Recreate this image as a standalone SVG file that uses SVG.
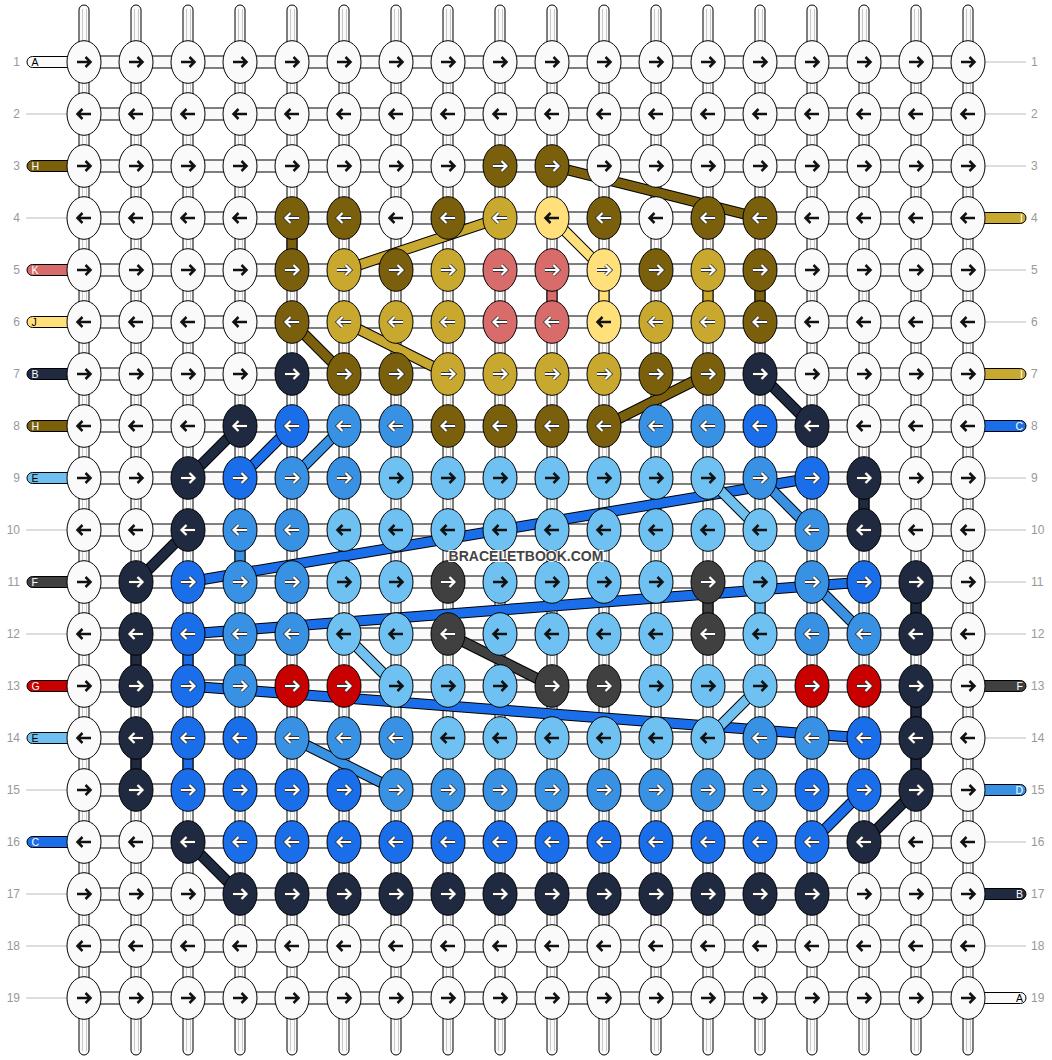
<svg xmlns="http://www.w3.org/2000/svg" xmlns:xlink="http://www.w3.org/1999/xlink" width="1052" height="1060" viewBox="0 0 1052 1060">
<style>
.vt{fill:#fafafa;stroke:#000;stroke-width:1}
.vi{stroke:#c8c8c8;stroke-width:1}
.ht{fill:#fafafa;stroke:#000;stroke-width:1}
.lk{stroke:#000;stroke-width:1}
.W{fill:#fafafa}.H{fill:#7a600c}.I{fill:#c9a830}.J{fill:#ffe07a}.K{fill:#d76c6b}.B{fill:#1f2940}.C{fill:#1b6ee9}.D{fill:#3891e2}.E{fill:#6ec1f0}.F{fill:#404040}.G{fill:#c80000}
ellipse{stroke:#000;stroke-width:1}
.ak{fill:none;stroke:#111;stroke-width:2.5}
.ao{fill:none;stroke:#333;stroke-width:3.8}
.aw{fill:none;stroke:#fff;stroke-width:2.2}
.so{stroke:#000;stroke-width:11}
.sc{stroke-width:9}
.tH{stroke:#7a600c}.tI{stroke:#c9a830}.tJ{stroke:#ffe07a}.tB{stroke:#1f2940}.tC{stroke:#1b6ee9}.tD{stroke:#3891e2}.tE{stroke:#6ec1f0}.tF{stroke:#404040}
.num{font-family:"Liberation Sans",Arial,sans-serif;font-size:12px;fill:#999}
.gl{stroke:#bbb;stroke-width:1}
.cap{stroke:#000;stroke-width:1}
.lt{font-family:"Liberation Sans",Arial,sans-serif;font-size:10.5px}
.wt{fill:#fff}.bt{fill:#000}
.wm{font-family:"Liberation Sans",Arial,sans-serif;font-size:14px;font-weight:bold;fill:#444;stroke:#fff;stroke-width:2;paint-order:stroke;text-anchor:middle}
</style>
<defs>
<path id="pR" d="M-7 0H6M1.5-5L6.5 0L1.5 5"/>
<path id="pL" d="M7 0H-6M-1.5-5L-6.5 0L-1.5 5"/>
<g id="R"><use href="#pR" class="ak"/></g>
<g id="L"><use href="#pL" class="ak"/></g>
<g id="RW"><use href="#pR" class="ao"/><use href="#pR" class="aw"/></g>
<g id="LW"><use href="#pL" class="ao"/><use href="#pL" class="aw"/></g>
</defs>
<rect width="1052" height="1060" fill="#fff"/>
<g id="vertical-strands">
<rect class="vt" x="79" y="5" width="10" height="1050" rx="5"/><line class="vi" x1="82.5" y1="9" x2="82.5" y2="1051"/><line class="vi" x1="86.5" y1="9" x2="86.5" y2="1051"/>
<rect class="vt" x="131" y="5" width="10" height="1050" rx="5"/><line class="vi" x1="134.5" y1="9" x2="134.5" y2="1051"/><line class="vi" x1="138.5" y1="9" x2="138.5" y2="1051"/>
<rect class="vt" x="183" y="5" width="10" height="1050" rx="5"/><line class="vi" x1="186.5" y1="9" x2="186.5" y2="1051"/><line class="vi" x1="190.5" y1="9" x2="190.5" y2="1051"/>
<rect class="vt" x="235" y="5" width="10" height="1050" rx="5"/><line class="vi" x1="238.5" y1="9" x2="238.5" y2="1051"/><line class="vi" x1="242.5" y1="9" x2="242.5" y2="1051"/>
<rect class="vt" x="287" y="5" width="10" height="1050" rx="5"/><line class="vi" x1="290.5" y1="9" x2="290.5" y2="1051"/><line class="vi" x1="294.5" y1="9" x2="294.5" y2="1051"/>
<rect class="vt" x="339" y="5" width="10" height="1050" rx="5"/><line class="vi" x1="342.5" y1="9" x2="342.5" y2="1051"/><line class="vi" x1="346.5" y1="9" x2="346.5" y2="1051"/>
<rect class="vt" x="391" y="5" width="10" height="1050" rx="5"/><line class="vi" x1="394.5" y1="9" x2="394.5" y2="1051"/><line class="vi" x1="398.5" y1="9" x2="398.5" y2="1051"/>
<rect class="vt" x="443" y="5" width="10" height="1050" rx="5"/><line class="vi" x1="446.5" y1="9" x2="446.5" y2="1051"/><line class="vi" x1="450.5" y1="9" x2="450.5" y2="1051"/>
<rect class="vt" x="495" y="5" width="10" height="1050" rx="5"/><line class="vi" x1="498.5" y1="9" x2="498.5" y2="1051"/><line class="vi" x1="502.5" y1="9" x2="502.5" y2="1051"/>
<rect class="vt" x="547" y="5" width="10" height="1050" rx="5"/><line class="vi" x1="550.5" y1="9" x2="550.5" y2="1051"/><line class="vi" x1="554.5" y1="9" x2="554.5" y2="1051"/>
<rect class="vt" x="599" y="5" width="10" height="1050" rx="5"/><line class="vi" x1="602.5" y1="9" x2="602.5" y2="1051"/><line class="vi" x1="606.5" y1="9" x2="606.5" y2="1051"/>
<rect class="vt" x="651" y="5" width="10" height="1050" rx="5"/><line class="vi" x1="654.5" y1="9" x2="654.5" y2="1051"/><line class="vi" x1="658.5" y1="9" x2="658.5" y2="1051"/>
<rect class="vt" x="703" y="5" width="10" height="1050" rx="5"/><line class="vi" x1="706.5" y1="9" x2="706.5" y2="1051"/><line class="vi" x1="710.5" y1="9" x2="710.5" y2="1051"/>
<rect class="vt" x="755" y="5" width="10" height="1050" rx="5"/><line class="vi" x1="758.5" y1="9" x2="758.5" y2="1051"/><line class="vi" x1="762.5" y1="9" x2="762.5" y2="1051"/>
<rect class="vt" x="807" y="5" width="10" height="1050" rx="5"/><line class="vi" x1="810.5" y1="9" x2="810.5" y2="1051"/><line class="vi" x1="814.5" y1="9" x2="814.5" y2="1051"/>
<rect class="vt" x="859" y="5" width="10" height="1050" rx="5"/><line class="vi" x1="862.5" y1="9" x2="862.5" y2="1051"/><line class="vi" x1="866.5" y1="9" x2="866.5" y2="1051"/>
<rect class="vt" x="911" y="5" width="10" height="1050" rx="5"/><line class="vi" x1="914.5" y1="9" x2="914.5" y2="1051"/><line class="vi" x1="918.5" y1="9" x2="918.5" y2="1051"/>
<rect class="vt" x="963" y="5" width="10" height="1050" rx="5"/><line class="vi" x1="966.5" y1="9" x2="966.5" y2="1051"/><line class="vi" x1="970.5" y1="9" x2="970.5" y2="1051"/>
</g>
<g id="horizontal-strands">
<rect class="ht" x="84" y="56" width="884" height="12"/>
<rect class="ht" x="84" y="108" width="884" height="12"/>
<rect class="ht" x="84" y="160" width="884" height="12"/>
<rect class="ht" x="84" y="212" width="884" height="12"/>
<rect class="ht" x="84" y="264" width="884" height="12"/>
<rect class="ht" x="84" y="316" width="884" height="12"/>
<rect class="ht" x="84" y="368" width="884" height="12"/>
<rect class="ht" x="84" y="420" width="884" height="12"/>
<rect class="ht" x="84" y="472" width="884" height="12"/>
<rect class="ht" x="84" y="524" width="884" height="12"/>
<rect class="ht" x="84" y="576" width="884" height="12"/>
<rect class="ht" x="84" y="628" width="884" height="12"/>
<rect class="ht" x="84" y="680" width="884" height="12"/>
<rect class="ht" x="84" y="732" width="884" height="12"/>
<rect class="ht" x="84" y="784" width="884" height="12"/>
<rect class="ht" x="84" y="836" width="884" height="12"/>
<rect class="ht" x="84" y="888" width="884" height="12"/>
<rect class="ht" x="84" y="940" width="884" height="12"/>
<rect class="ht" x="84" y="992" width="884" height="12"/>
</g>
<g id="labels">
<g class="num">
<text x="20" y="66" text-anchor="end">1</text><text x="20" y="118" text-anchor="end">2</text><text x="20" y="170" text-anchor="end">3</text><text x="20" y="222" text-anchor="end">4</text><text x="20" y="274" text-anchor="end">5</text><text x="20" y="326" text-anchor="end">6</text><text x="20" y="378" text-anchor="end">7</text><text x="20" y="430" text-anchor="end">8</text><text x="20" y="482" text-anchor="end">9</text><text x="20" y="534" text-anchor="end">10</text><text x="20" y="586" text-anchor="end">11</text><text x="20" y="638" text-anchor="end">12</text><text x="20" y="690" text-anchor="end">13</text><text x="20" y="742" text-anchor="end">14</text><text x="20" y="794" text-anchor="end">15</text><text x="20" y="846" text-anchor="end">16</text><text x="20" y="898" text-anchor="end">17</text><text x="20" y="950" text-anchor="end">18</text><text x="20" y="1002" text-anchor="end">19</text>
<text x="1031" y="66">1</text><text x="1031" y="118">2</text><text x="1031" y="170">3</text><text x="1031" y="222">4</text><text x="1031" y="274">5</text><text x="1031" y="326">6</text><text x="1031" y="378">7</text><text x="1031" y="430">8</text><text x="1031" y="482">9</text><text x="1031" y="534">10</text><text x="1031" y="586">11</text><text x="1031" y="638">12</text><text x="1031" y="690">13</text><text x="1031" y="742">14</text><text x="1031" y="794">15</text><text x="1031" y="846">16</text><text x="1031" y="898">17</text><text x="1031" y="950">18</text><text x="1031" y="1002">19</text>
</g>
<g class="gl">
<line x1="26" y1="114" x2="67" y2="114"/><line x1="26" y1="218" x2="67" y2="218"/><line x1="26" y1="530" x2="67" y2="530"/><line x1="26" y1="634" x2="67" y2="634"/><line x1="26" y1="790" x2="67" y2="790"/><line x1="26" y1="894" x2="67" y2="894"/><line x1="26" y1="946" x2="67" y2="946"/><line x1="26" y1="998" x2="67" y2="998"/>
<line x1="985" y1="62" x2="1026" y2="62"/><line x1="985" y1="114" x2="1026" y2="114"/><line x1="985" y1="166" x2="1026" y2="166"/><line x1="985" y1="270" x2="1026" y2="270"/><line x1="985" y1="322" x2="1026" y2="322"/><line x1="985" y1="478" x2="1026" y2="478"/><line x1="985" y1="530" x2="1026" y2="530"/><line x1="985" y1="582" x2="1026" y2="582"/><line x1="985" y1="634" x2="1026" y2="634"/><line x1="985" y1="738" x2="1026" y2="738"/><line x1="985" y1="842" x2="1026" y2="842"/><line x1="985" y1="946" x2="1026" y2="946"/>
</g>
<g id="start-A"><rect class="cap W" x="27" y="56.5" width="50" height="11" rx="5.5"/><text class="lt bt" x="31.5" y="66">A</text></g>
<g id="start-H1"><rect class="cap H" x="27" y="160.5" width="50" height="11" rx="5.5"/><text class="lt wt" x="31.5" y="170">H</text></g>
<g id="start-K"><rect class="cap K" x="27" y="264.5" width="50" height="11" rx="5.5"/><text class="lt wt" x="31.5" y="274">K</text></g>
<g id="start-J"><rect class="cap J" x="27" y="316.5" width="50" height="11" rx="5.5"/><text class="lt bt" x="31.5" y="326">J</text></g>
<g id="start-B"><rect class="cap B" x="27" y="368.5" width="50" height="11" rx="5.5"/><text class="lt wt" x="31.5" y="378">B</text></g>
<g id="start-H2"><rect class="cap H" x="27" y="420.5" width="50" height="11" rx="5.5"/><text class="lt wt" x="31.5" y="430">H</text></g>
<g id="start-E1"><rect class="cap E" x="27" y="472.5" width="50" height="11" rx="5.5"/><text class="lt bt" x="31.5" y="482">E</text></g>
<g id="start-F"><rect class="cap F" x="27" y="576.5" width="50" height="11" rx="5.5"/><text class="lt wt" x="31.5" y="586">F</text></g>
<g id="start-G"><rect class="cap G" x="27" y="680.5" width="50" height="11" rx="5.5"/><text class="lt wt" x="31.5" y="690">G</text></g>
<g id="start-E2"><rect class="cap E" x="27" y="732.5" width="50" height="11" rx="5.5"/><text class="lt bt" x="31.5" y="742">E</text></g>
<g id="start-C"><rect class="cap C" x="27" y="836.5" width="50" height="11" rx="5.5"/><text class="lt wt" x="31.5" y="846">C</text></g>
<g id="end-I1"><rect class="cap I" x="962" y="212.5" width="64" height="11" rx="5.5"/><text class="lt wt" x="1023" y="222" text-anchor="end">I</text></g>
<g id="end-I2"><rect class="cap I" x="962" y="368.5" width="64" height="11" rx="5.5"/><text class="lt wt" x="1023" y="378" text-anchor="end">I</text></g>
<g id="end-C"><rect class="cap C" x="962" y="420.5" width="64" height="11" rx="5.5"/><text class="lt wt" x="1023" y="430" text-anchor="end">C</text></g>
<g id="end-F"><rect class="cap F" x="962" y="680.5" width="64" height="11" rx="5.5"/><text class="lt wt" x="1023" y="690" text-anchor="end">F</text></g>
<g id="end-D"><rect class="cap D" x="962" y="784.5" width="64" height="11" rx="5.5"/><text class="lt wt" x="1023" y="794" text-anchor="end">D</text></g>
<g id="end-B"><rect class="cap B" x="962" y="888.5" width="64" height="11" rx="5.5"/><text class="lt wt" x="1023" y="898" text-anchor="end">B</text></g>
<g id="end-A"><rect class="cap W" x="962" y="992.5" width="64" height="11" rx="5.5"/><text class="lt bt" x="1023" y="1002" text-anchor="end">A</text></g>
</g>
<g id="connectors">
<g id="links">
<rect class="lk H" x="287" y="218" width="10" height="52"/>
<rect class="lk K" x="547" y="270" width="10" height="52"/>
<rect class="lk J" x="599" y="270" width="10" height="52"/>
<rect class="lk I" x="703" y="270" width="10" height="52"/>
<rect class="lk H" x="755" y="270" width="10" height="52"/>
<rect class="lk B" x="859" y="478" width="10" height="52"/>
<rect class="lk D" x="235" y="530" width="10" height="52"/>
<rect class="lk F" x="703" y="582" width="10" height="52"/>
<rect class="lk E" x="755" y="582" width="10" height="52"/>
<rect class="lk B" x="911" y="582" width="10" height="52"/>
<rect class="lk B" x="131" y="634" width="10" height="52"/>
<rect class="lk C" x="183" y="634" width="10" height="52"/>
<rect class="lk D" x="235" y="634" width="10" height="52"/>
<rect class="lk B" x="911" y="686" width="10" height="52"/>
<rect class="lk B" x="131" y="738" width="10" height="52"/>
<rect class="lk C" x="183" y="738" width="10" height="52"/>
<rect class="lk B" x="911" y="738" width="10" height="52"/>
</g>
<g id="diagonals">
<line class="so" x1="552" y1="166" x2="760" y2="218"/><line class="sc tH" x1="552" y1="166" x2="760" y2="218"/>
<line class="so" x1="344" y1="270" x2="500" y2="218"/><line class="sc tI" x1="344" y1="270" x2="500" y2="218"/>
<line class="so" x1="552" y1="218" x2="604" y2="270"/><line class="sc tJ" x1="552" y1="218" x2="604" y2="270"/>
<line class="so" x1="292" y1="322" x2="344" y2="374"/><line class="sc tH" x1="292" y1="322" x2="344" y2="374"/>
<line class="so" x1="344" y1="322" x2="448" y2="374"/><line class="sc tI" x1="344" y1="322" x2="448" y2="374"/>
<line class="so" x1="760" y1="374" x2="812" y2="426"/><line class="sc tB" x1="760" y1="374" x2="812" y2="426"/>
<line class="so" x1="604" y1="426" x2="708" y2="374"/><line class="sc tH" x1="604" y1="426" x2="708" y2="374"/>
<line class="so" x1="240" y1="426" x2="188" y2="478"/><line class="sc tB" x1="240" y1="426" x2="188" y2="478"/>
<line class="so" x1="292" y1="426" x2="240" y2="478"/><line class="sc tC" x1="292" y1="426" x2="240" y2="478"/>
<line class="so" x1="344" y1="426" x2="292" y2="478"/><line class="sc tD" x1="344" y1="426" x2="292" y2="478"/>
<line class="so" x1="188" y1="530" x2="136" y2="582"/><line class="sc tB" x1="188" y1="530" x2="136" y2="582"/>
<line class="so" x1="188" y1="582" x2="812" y2="478"/><line class="sc tC" x1="188" y1="582" x2="812" y2="478"/>
<line class="so" x1="708" y1="478" x2="760" y2="530"/><line class="sc tE" x1="708" y1="478" x2="760" y2="530"/>
<line class="so" x1="760" y1="478" x2="812" y2="530"/><line class="sc tD" x1="760" y1="478" x2="812" y2="530"/>
<line class="so" x1="188" y1="634" x2="864" y2="582"/><line class="sc tC" x1="188" y1="634" x2="864" y2="582"/>
<line class="so" x1="448" y1="634" x2="552" y2="686"/><line class="sc tF" x1="448" y1="634" x2="552" y2="686"/>
<line class="so" x1="344" y1="634" x2="396" y2="686"/><line class="sc tE" x1="344" y1="634" x2="396" y2="686"/>
<line class="so" x1="812" y1="582" x2="864" y2="634"/><line class="sc tD" x1="812" y1="582" x2="864" y2="634"/>
<line class="so" x1="188" y1="686" x2="864" y2="738"/><line class="sc tC" x1="188" y1="686" x2="864" y2="738"/>
<line class="so" x1="760" y1="686" x2="708" y2="738"/><line class="sc tE" x1="760" y1="686" x2="708" y2="738"/>
<line class="so" x1="292" y1="738" x2="396" y2="790"/><line class="sc tD" x1="292" y1="738" x2="396" y2="790"/>
<line class="so" x1="188" y1="842" x2="240" y2="894"/><line class="sc tB" x1="188" y1="842" x2="240" y2="894"/>
<line class="so" x1="916" y1="790" x2="864" y2="842"/><line class="sc tB" x1="916" y1="790" x2="864" y2="842"/>
<line class="so" x1="864" y1="790" x2="812" y2="842"/><line class="sc tC" x1="864" y1="790" x2="812" y2="842"/>
</g>
</g>
<g id="knots">
<g id="k1-1" class="W"><ellipse cx="84" cy="62" rx="17" ry="21.3"/><use href="#R" x="84" y="62"/></g>
<g id="k1-2" class="W"><ellipse cx="136" cy="62" rx="17" ry="21.3"/><use href="#R" x="136" y="62"/></g>
<g id="k1-3" class="W"><ellipse cx="188" cy="62" rx="17" ry="21.3"/><use href="#R" x="188" y="62"/></g>
<g id="k1-4" class="W"><ellipse cx="240" cy="62" rx="17" ry="21.3"/><use href="#R" x="240" y="62"/></g>
<g id="k1-5" class="W"><ellipse cx="292" cy="62" rx="17" ry="21.3"/><use href="#R" x="292" y="62"/></g>
<g id="k1-6" class="W"><ellipse cx="344" cy="62" rx="17" ry="21.3"/><use href="#R" x="344" y="62"/></g>
<g id="k1-7" class="W"><ellipse cx="396" cy="62" rx="17" ry="21.3"/><use href="#R" x="396" y="62"/></g>
<g id="k1-8" class="W"><ellipse cx="448" cy="62" rx="17" ry="21.3"/><use href="#R" x="448" y="62"/></g>
<g id="k1-9" class="W"><ellipse cx="500" cy="62" rx="17" ry="21.3"/><use href="#R" x="500" y="62"/></g>
<g id="k1-10" class="W"><ellipse cx="552" cy="62" rx="17" ry="21.3"/><use href="#R" x="552" y="62"/></g>
<g id="k1-11" class="W"><ellipse cx="604" cy="62" rx="17" ry="21.3"/><use href="#R" x="604" y="62"/></g>
<g id="k1-12" class="W"><ellipse cx="656" cy="62" rx="17" ry="21.3"/><use href="#R" x="656" y="62"/></g>
<g id="k1-13" class="W"><ellipse cx="708" cy="62" rx="17" ry="21.3"/><use href="#R" x="708" y="62"/></g>
<g id="k1-14" class="W"><ellipse cx="760" cy="62" rx="17" ry="21.3"/><use href="#R" x="760" y="62"/></g>
<g id="k1-15" class="W"><ellipse cx="812" cy="62" rx="17" ry="21.3"/><use href="#R" x="812" y="62"/></g>
<g id="k1-16" class="W"><ellipse cx="864" cy="62" rx="17" ry="21.3"/><use href="#R" x="864" y="62"/></g>
<g id="k1-17" class="W"><ellipse cx="916" cy="62" rx="17" ry="21.3"/><use href="#R" x="916" y="62"/></g>
<g id="k1-18" class="W"><ellipse cx="968" cy="62" rx="17" ry="21.3"/><use href="#R" x="968" y="62"/></g>
<g id="k2-1" class="W"><ellipse cx="84" cy="114" rx="17" ry="21.3"/><use href="#L" x="84" y="114"/></g>
<g id="k2-2" class="W"><ellipse cx="136" cy="114" rx="17" ry="21.3"/><use href="#L" x="136" y="114"/></g>
<g id="k2-3" class="W"><ellipse cx="188" cy="114" rx="17" ry="21.3"/><use href="#L" x="188" y="114"/></g>
<g id="k2-4" class="W"><ellipse cx="240" cy="114" rx="17" ry="21.3"/><use href="#L" x="240" y="114"/></g>
<g id="k2-5" class="W"><ellipse cx="292" cy="114" rx="17" ry="21.3"/><use href="#L" x="292" y="114"/></g>
<g id="k2-6" class="W"><ellipse cx="344" cy="114" rx="17" ry="21.3"/><use href="#L" x="344" y="114"/></g>
<g id="k2-7" class="W"><ellipse cx="396" cy="114" rx="17" ry="21.3"/><use href="#L" x="396" y="114"/></g>
<g id="k2-8" class="W"><ellipse cx="448" cy="114" rx="17" ry="21.3"/><use href="#L" x="448" y="114"/></g>
<g id="k2-9" class="W"><ellipse cx="500" cy="114" rx="17" ry="21.3"/><use href="#L" x="500" y="114"/></g>
<g id="k2-10" class="W"><ellipse cx="552" cy="114" rx="17" ry="21.3"/><use href="#L" x="552" y="114"/></g>
<g id="k2-11" class="W"><ellipse cx="604" cy="114" rx="17" ry="21.3"/><use href="#L" x="604" y="114"/></g>
<g id="k2-12" class="W"><ellipse cx="656" cy="114" rx="17" ry="21.3"/><use href="#L" x="656" y="114"/></g>
<g id="k2-13" class="W"><ellipse cx="708" cy="114" rx="17" ry="21.3"/><use href="#L" x="708" y="114"/></g>
<g id="k2-14" class="W"><ellipse cx="760" cy="114" rx="17" ry="21.3"/><use href="#L" x="760" y="114"/></g>
<g id="k2-15" class="W"><ellipse cx="812" cy="114" rx="17" ry="21.3"/><use href="#L" x="812" y="114"/></g>
<g id="k2-16" class="W"><ellipse cx="864" cy="114" rx="17" ry="21.3"/><use href="#L" x="864" y="114"/></g>
<g id="k2-17" class="W"><ellipse cx="916" cy="114" rx="17" ry="21.3"/><use href="#L" x="916" y="114"/></g>
<g id="k2-18" class="W"><ellipse cx="968" cy="114" rx="17" ry="21.3"/><use href="#L" x="968" y="114"/></g>
<g id="k3-1" class="W"><ellipse cx="84" cy="166" rx="17" ry="21.3"/><use href="#R" x="84" y="166"/></g>
<g id="k3-2" class="W"><ellipse cx="136" cy="166" rx="17" ry="21.3"/><use href="#R" x="136" y="166"/></g>
<g id="k3-3" class="W"><ellipse cx="188" cy="166" rx="17" ry="21.3"/><use href="#R" x="188" y="166"/></g>
<g id="k3-4" class="W"><ellipse cx="240" cy="166" rx="17" ry="21.3"/><use href="#R" x="240" y="166"/></g>
<g id="k3-5" class="W"><ellipse cx="292" cy="166" rx="17" ry="21.3"/><use href="#R" x="292" y="166"/></g>
<g id="k3-6" class="W"><ellipse cx="344" cy="166" rx="17" ry="21.3"/><use href="#R" x="344" y="166"/></g>
<g id="k3-7" class="W"><ellipse cx="396" cy="166" rx="17" ry="21.3"/><use href="#R" x="396" y="166"/></g>
<g id="k3-8" class="W"><ellipse cx="448" cy="166" rx="17" ry="21.3"/><use href="#R" x="448" y="166"/></g>
<g id="k3-9" class="H"><ellipse cx="500" cy="166" rx="17" ry="21.3"/><use href="#RW" x="500" y="166"/></g>
<g id="k3-10" class="H"><ellipse cx="552" cy="166" rx="17" ry="21.3"/><use href="#RW" x="552" y="166"/></g>
<g id="k3-11" class="W"><ellipse cx="604" cy="166" rx="17" ry="21.3"/><use href="#R" x="604" y="166"/></g>
<g id="k3-12" class="W"><ellipse cx="656" cy="166" rx="17" ry="21.3"/><use href="#R" x="656" y="166"/></g>
<g id="k3-13" class="W"><ellipse cx="708" cy="166" rx="17" ry="21.3"/><use href="#R" x="708" y="166"/></g>
<g id="k3-14" class="W"><ellipse cx="760" cy="166" rx="17" ry="21.3"/><use href="#R" x="760" y="166"/></g>
<g id="k3-15" class="W"><ellipse cx="812" cy="166" rx="17" ry="21.3"/><use href="#R" x="812" y="166"/></g>
<g id="k3-16" class="W"><ellipse cx="864" cy="166" rx="17" ry="21.3"/><use href="#R" x="864" y="166"/></g>
<g id="k3-17" class="W"><ellipse cx="916" cy="166" rx="17" ry="21.3"/><use href="#R" x="916" y="166"/></g>
<g id="k3-18" class="W"><ellipse cx="968" cy="166" rx="17" ry="21.3"/><use href="#R" x="968" y="166"/></g>
<g id="k4-1" class="W"><ellipse cx="84" cy="218" rx="17" ry="21.3"/><use href="#L" x="84" y="218"/></g>
<g id="k4-2" class="W"><ellipse cx="136" cy="218" rx="17" ry="21.3"/><use href="#L" x="136" y="218"/></g>
<g id="k4-3" class="W"><ellipse cx="188" cy="218" rx="17" ry="21.3"/><use href="#L" x="188" y="218"/></g>
<g id="k4-4" class="W"><ellipse cx="240" cy="218" rx="17" ry="21.3"/><use href="#L" x="240" y="218"/></g>
<g id="k4-5" class="H"><ellipse cx="292" cy="218" rx="17" ry="21.3"/><use href="#LW" x="292" y="218"/></g>
<g id="k4-6" class="H"><ellipse cx="344" cy="218" rx="17" ry="21.3"/><use href="#LW" x="344" y="218"/></g>
<g id="k4-7" class="W"><ellipse cx="396" cy="218" rx="17" ry="21.3"/><use href="#L" x="396" y="218"/></g>
<g id="k4-8" class="H"><ellipse cx="448" cy="218" rx="17" ry="21.3"/><use href="#LW" x="448" y="218"/></g>
<g id="k4-9" class="I"><ellipse cx="500" cy="218" rx="17" ry="21.3"/><use href="#LW" x="500" y="218"/></g>
<g id="k4-10" class="J"><ellipse cx="552" cy="218" rx="17" ry="21.3"/><use href="#L" x="552" y="218"/></g>
<g id="k4-11" class="H"><ellipse cx="604" cy="218" rx="17" ry="21.3"/><use href="#LW" x="604" y="218"/></g>
<g id="k4-12" class="W"><ellipse cx="656" cy="218" rx="17" ry="21.3"/><use href="#L" x="656" y="218"/></g>
<g id="k4-13" class="H"><ellipse cx="708" cy="218" rx="17" ry="21.3"/><use href="#LW" x="708" y="218"/></g>
<g id="k4-14" class="H"><ellipse cx="760" cy="218" rx="17" ry="21.3"/><use href="#LW" x="760" y="218"/></g>
<g id="k4-15" class="W"><ellipse cx="812" cy="218" rx="17" ry="21.3"/><use href="#L" x="812" y="218"/></g>
<g id="k4-16" class="W"><ellipse cx="864" cy="218" rx="17" ry="21.3"/><use href="#L" x="864" y="218"/></g>
<g id="k4-17" class="W"><ellipse cx="916" cy="218" rx="17" ry="21.3"/><use href="#L" x="916" y="218"/></g>
<g id="k4-18" class="W"><ellipse cx="968" cy="218" rx="17" ry="21.3"/><use href="#L" x="968" y="218"/></g>
<g id="k5-1" class="W"><ellipse cx="84" cy="270" rx="17" ry="21.3"/><use href="#R" x="84" y="270"/></g>
<g id="k5-2" class="W"><ellipse cx="136" cy="270" rx="17" ry="21.3"/><use href="#R" x="136" y="270"/></g>
<g id="k5-3" class="W"><ellipse cx="188" cy="270" rx="17" ry="21.3"/><use href="#R" x="188" y="270"/></g>
<g id="k5-4" class="W"><ellipse cx="240" cy="270" rx="17" ry="21.3"/><use href="#R" x="240" y="270"/></g>
<g id="k5-5" class="H"><ellipse cx="292" cy="270" rx="17" ry="21.3"/><use href="#RW" x="292" y="270"/></g>
<g id="k5-6" class="I"><ellipse cx="344" cy="270" rx="17" ry="21.3"/><use href="#RW" x="344" y="270"/></g>
<g id="k5-7" class="H"><ellipse cx="396" cy="270" rx="17" ry="21.3"/><use href="#RW" x="396" y="270"/></g>
<g id="k5-8" class="I"><ellipse cx="448" cy="270" rx="17" ry="21.3"/><use href="#RW" x="448" y="270"/></g>
<g id="k5-9" class="K"><ellipse cx="500" cy="270" rx="17" ry="21.3"/><use href="#RW" x="500" y="270"/></g>
<g id="k5-10" class="K"><ellipse cx="552" cy="270" rx="17" ry="21.3"/><use href="#RW" x="552" y="270"/></g>
<g id="k5-11" class="J"><ellipse cx="604" cy="270" rx="17" ry="21.3"/><use href="#RW" x="604" y="270"/></g>
<g id="k5-12" class="H"><ellipse cx="656" cy="270" rx="17" ry="21.3"/><use href="#RW" x="656" y="270"/></g>
<g id="k5-13" class="I"><ellipse cx="708" cy="270" rx="17" ry="21.3"/><use href="#RW" x="708" y="270"/></g>
<g id="k5-14" class="H"><ellipse cx="760" cy="270" rx="17" ry="21.3"/><use href="#RW" x="760" y="270"/></g>
<g id="k5-15" class="W"><ellipse cx="812" cy="270" rx="17" ry="21.3"/><use href="#R" x="812" y="270"/></g>
<g id="k5-16" class="W"><ellipse cx="864" cy="270" rx="17" ry="21.3"/><use href="#R" x="864" y="270"/></g>
<g id="k5-17" class="W"><ellipse cx="916" cy="270" rx="17" ry="21.3"/><use href="#R" x="916" y="270"/></g>
<g id="k5-18" class="W"><ellipse cx="968" cy="270" rx="17" ry="21.3"/><use href="#R" x="968" y="270"/></g>
<g id="k6-1" class="W"><ellipse cx="84" cy="322" rx="17" ry="21.3"/><use href="#L" x="84" y="322"/></g>
<g id="k6-2" class="W"><ellipse cx="136" cy="322" rx="17" ry="21.3"/><use href="#L" x="136" y="322"/></g>
<g id="k6-3" class="W"><ellipse cx="188" cy="322" rx="17" ry="21.3"/><use href="#L" x="188" y="322"/></g>
<g id="k6-4" class="W"><ellipse cx="240" cy="322" rx="17" ry="21.3"/><use href="#L" x="240" y="322"/></g>
<g id="k6-5" class="H"><ellipse cx="292" cy="322" rx="17" ry="21.3"/><use href="#LW" x="292" y="322"/></g>
<g id="k6-6" class="I"><ellipse cx="344" cy="322" rx="17" ry="21.3"/><use href="#LW" x="344" y="322"/></g>
<g id="k6-7" class="I"><ellipse cx="396" cy="322" rx="17" ry="21.3"/><use href="#LW" x="396" y="322"/></g>
<g id="k6-8" class="I"><ellipse cx="448" cy="322" rx="17" ry="21.3"/><use href="#LW" x="448" y="322"/></g>
<g id="k6-9" class="K"><ellipse cx="500" cy="322" rx="17" ry="21.3"/><use href="#LW" x="500" y="322"/></g>
<g id="k6-10" class="K"><ellipse cx="552" cy="322" rx="17" ry="21.3"/><use href="#LW" x="552" y="322"/></g>
<g id="k6-11" class="J"><ellipse cx="604" cy="322" rx="17" ry="21.3"/><use href="#L" x="604" y="322"/></g>
<g id="k6-12" class="I"><ellipse cx="656" cy="322" rx="17" ry="21.3"/><use href="#LW" x="656" y="322"/></g>
<g id="k6-13" class="I"><ellipse cx="708" cy="322" rx="17" ry="21.3"/><use href="#LW" x="708" y="322"/></g>
<g id="k6-14" class="H"><ellipse cx="760" cy="322" rx="17" ry="21.3"/><use href="#LW" x="760" y="322"/></g>
<g id="k6-15" class="W"><ellipse cx="812" cy="322" rx="17" ry="21.3"/><use href="#L" x="812" y="322"/></g>
<g id="k6-16" class="W"><ellipse cx="864" cy="322" rx="17" ry="21.3"/><use href="#L" x="864" y="322"/></g>
<g id="k6-17" class="W"><ellipse cx="916" cy="322" rx="17" ry="21.3"/><use href="#L" x="916" y="322"/></g>
<g id="k6-18" class="W"><ellipse cx="968" cy="322" rx="17" ry="21.3"/><use href="#L" x="968" y="322"/></g>
<g id="k7-1" class="W"><ellipse cx="84" cy="374" rx="17" ry="21.3"/><use href="#R" x="84" y="374"/></g>
<g id="k7-2" class="W"><ellipse cx="136" cy="374" rx="17" ry="21.3"/><use href="#R" x="136" y="374"/></g>
<g id="k7-3" class="W"><ellipse cx="188" cy="374" rx="17" ry="21.3"/><use href="#R" x="188" y="374"/></g>
<g id="k7-4" class="W"><ellipse cx="240" cy="374" rx="17" ry="21.3"/><use href="#R" x="240" y="374"/></g>
<g id="k7-5" class="B"><ellipse cx="292" cy="374" rx="17" ry="21.3"/><use href="#RW" x="292" y="374"/></g>
<g id="k7-6" class="H"><ellipse cx="344" cy="374" rx="17" ry="21.3"/><use href="#RW" x="344" y="374"/></g>
<g id="k7-7" class="H"><ellipse cx="396" cy="374" rx="17" ry="21.3"/><use href="#RW" x="396" y="374"/></g>
<g id="k7-8" class="I"><ellipse cx="448" cy="374" rx="17" ry="21.3"/><use href="#RW" x="448" y="374"/></g>
<g id="k7-9" class="I"><ellipse cx="500" cy="374" rx="17" ry="21.3"/><use href="#RW" x="500" y="374"/></g>
<g id="k7-10" class="I"><ellipse cx="552" cy="374" rx="17" ry="21.3"/><use href="#RW" x="552" y="374"/></g>
<g id="k7-11" class="I"><ellipse cx="604" cy="374" rx="17" ry="21.3"/><use href="#RW" x="604" y="374"/></g>
<g id="k7-12" class="H"><ellipse cx="656" cy="374" rx="17" ry="21.3"/><use href="#RW" x="656" y="374"/></g>
<g id="k7-13" class="H"><ellipse cx="708" cy="374" rx="17" ry="21.3"/><use href="#RW" x="708" y="374"/></g>
<g id="k7-14" class="B"><ellipse cx="760" cy="374" rx="17" ry="21.3"/><use href="#RW" x="760" y="374"/></g>
<g id="k7-15" class="W"><ellipse cx="812" cy="374" rx="17" ry="21.3"/><use href="#R" x="812" y="374"/></g>
<g id="k7-16" class="W"><ellipse cx="864" cy="374" rx="17" ry="21.3"/><use href="#R" x="864" y="374"/></g>
<g id="k7-17" class="W"><ellipse cx="916" cy="374" rx="17" ry="21.3"/><use href="#R" x="916" y="374"/></g>
<g id="k7-18" class="W"><ellipse cx="968" cy="374" rx="17" ry="21.3"/><use href="#R" x="968" y="374"/></g>
<g id="k8-1" class="W"><ellipse cx="84" cy="426" rx="17" ry="21.3"/><use href="#L" x="84" y="426"/></g>
<g id="k8-2" class="W"><ellipse cx="136" cy="426" rx="17" ry="21.3"/><use href="#L" x="136" y="426"/></g>
<g id="k8-3" class="W"><ellipse cx="188" cy="426" rx="17" ry="21.3"/><use href="#L" x="188" y="426"/></g>
<g id="k8-4" class="B"><ellipse cx="240" cy="426" rx="17" ry="21.3"/><use href="#LW" x="240" y="426"/></g>
<g id="k8-5" class="C"><ellipse cx="292" cy="426" rx="17" ry="21.3"/><use href="#LW" x="292" y="426"/></g>
<g id="k8-6" class="D"><ellipse cx="344" cy="426" rx="17" ry="21.3"/><use href="#LW" x="344" y="426"/></g>
<g id="k8-7" class="D"><ellipse cx="396" cy="426" rx="17" ry="21.3"/><use href="#LW" x="396" y="426"/></g>
<g id="k8-8" class="H"><ellipse cx="448" cy="426" rx="17" ry="21.3"/><use href="#LW" x="448" y="426"/></g>
<g id="k8-9" class="H"><ellipse cx="500" cy="426" rx="17" ry="21.3"/><use href="#LW" x="500" y="426"/></g>
<g id="k8-10" class="H"><ellipse cx="552" cy="426" rx="17" ry="21.3"/><use href="#LW" x="552" y="426"/></g>
<g id="k8-11" class="H"><ellipse cx="604" cy="426" rx="17" ry="21.3"/><use href="#LW" x="604" y="426"/></g>
<g id="k8-12" class="D"><ellipse cx="656" cy="426" rx="17" ry="21.3"/><use href="#LW" x="656" y="426"/></g>
<g id="k8-13" class="D"><ellipse cx="708" cy="426" rx="17" ry="21.3"/><use href="#LW" x="708" y="426"/></g>
<g id="k8-14" class="C"><ellipse cx="760" cy="426" rx="17" ry="21.3"/><use href="#LW" x="760" y="426"/></g>
<g id="k8-15" class="B"><ellipse cx="812" cy="426" rx="17" ry="21.3"/><use href="#LW" x="812" y="426"/></g>
<g id="k8-16" class="W"><ellipse cx="864" cy="426" rx="17" ry="21.3"/><use href="#L" x="864" y="426"/></g>
<g id="k8-17" class="W"><ellipse cx="916" cy="426" rx="17" ry="21.3"/><use href="#L" x="916" y="426"/></g>
<g id="k8-18" class="W"><ellipse cx="968" cy="426" rx="17" ry="21.3"/><use href="#L" x="968" y="426"/></g>
<g id="k9-1" class="W"><ellipse cx="84" cy="478" rx="17" ry="21.3"/><use href="#R" x="84" y="478"/></g>
<g id="k9-2" class="W"><ellipse cx="136" cy="478" rx="17" ry="21.3"/><use href="#R" x="136" y="478"/></g>
<g id="k9-3" class="B"><ellipse cx="188" cy="478" rx="17" ry="21.3"/><use href="#RW" x="188" y="478"/></g>
<g id="k9-4" class="C"><ellipse cx="240" cy="478" rx="17" ry="21.3"/><use href="#RW" x="240" y="478"/></g>
<g id="k9-5" class="D"><ellipse cx="292" cy="478" rx="17" ry="21.3"/><use href="#RW" x="292" y="478"/></g>
<g id="k9-6" class="D"><ellipse cx="344" cy="478" rx="17" ry="21.3"/><use href="#RW" x="344" y="478"/></g>
<g id="k9-7" class="E"><ellipse cx="396" cy="478" rx="17" ry="21.3"/><use href="#R" x="396" y="478"/></g>
<g id="k9-8" class="E"><ellipse cx="448" cy="478" rx="17" ry="21.3"/><use href="#R" x="448" y="478"/></g>
<g id="k9-9" class="E"><ellipse cx="500" cy="478" rx="17" ry="21.3"/><use href="#R" x="500" y="478"/></g>
<g id="k9-10" class="E"><ellipse cx="552" cy="478" rx="17" ry="21.3"/><use href="#R" x="552" y="478"/></g>
<g id="k9-11" class="E"><ellipse cx="604" cy="478" rx="17" ry="21.3"/><use href="#R" x="604" y="478"/></g>
<g id="k9-12" class="E"><ellipse cx="656" cy="478" rx="17" ry="21.3"/><use href="#R" x="656" y="478"/></g>
<g id="k9-13" class="E"><ellipse cx="708" cy="478" rx="17" ry="21.3"/><use href="#R" x="708" y="478"/></g>
<g id="k9-14" class="D"><ellipse cx="760" cy="478" rx="17" ry="21.3"/><use href="#RW" x="760" y="478"/></g>
<g id="k9-15" class="C"><ellipse cx="812" cy="478" rx="17" ry="21.3"/><use href="#RW" x="812" y="478"/></g>
<g id="k9-16" class="B"><ellipse cx="864" cy="478" rx="17" ry="21.3"/><use href="#RW" x="864" y="478"/></g>
<g id="k9-17" class="W"><ellipse cx="916" cy="478" rx="17" ry="21.3"/><use href="#R" x="916" y="478"/></g>
<g id="k9-18" class="W"><ellipse cx="968" cy="478" rx="17" ry="21.3"/><use href="#R" x="968" y="478"/></g>
<g id="k10-1" class="W"><ellipse cx="84" cy="530" rx="17" ry="21.3"/><use href="#L" x="84" y="530"/></g>
<g id="k10-2" class="W"><ellipse cx="136" cy="530" rx="17" ry="21.3"/><use href="#L" x="136" y="530"/></g>
<g id="k10-3" class="B"><ellipse cx="188" cy="530" rx="17" ry="21.3"/><use href="#LW" x="188" y="530"/></g>
<g id="k10-4" class="D"><ellipse cx="240" cy="530" rx="17" ry="21.3"/><use href="#LW" x="240" y="530"/></g>
<g id="k10-5" class="D"><ellipse cx="292" cy="530" rx="17" ry="21.3"/><use href="#LW" x="292" y="530"/></g>
<g id="k10-6" class="E"><ellipse cx="344" cy="530" rx="17" ry="21.3"/><use href="#L" x="344" y="530"/></g>
<g id="k10-7" class="E"><ellipse cx="396" cy="530" rx="17" ry="21.3"/><use href="#L" x="396" y="530"/></g>
<g id="k10-8" class="E"><ellipse cx="448" cy="530" rx="17" ry="21.3"/><use href="#L" x="448" y="530"/></g>
<g id="k10-9" class="E"><ellipse cx="500" cy="530" rx="17" ry="21.3"/><use href="#L" x="500" y="530"/></g>
<g id="k10-10" class="E"><ellipse cx="552" cy="530" rx="17" ry="21.3"/><use href="#L" x="552" y="530"/></g>
<g id="k10-11" class="E"><ellipse cx="604" cy="530" rx="17" ry="21.3"/><use href="#L" x="604" y="530"/></g>
<g id="k10-12" class="E"><ellipse cx="656" cy="530" rx="17" ry="21.3"/><use href="#L" x="656" y="530"/></g>
<g id="k10-13" class="E"><ellipse cx="708" cy="530" rx="17" ry="21.3"/><use href="#L" x="708" y="530"/></g>
<g id="k10-14" class="E"><ellipse cx="760" cy="530" rx="17" ry="21.3"/><use href="#L" x="760" y="530"/></g>
<g id="k10-15" class="D"><ellipse cx="812" cy="530" rx="17" ry="21.3"/><use href="#LW" x="812" y="530"/></g>
<g id="k10-16" class="B"><ellipse cx="864" cy="530" rx="17" ry="21.3"/><use href="#LW" x="864" y="530"/></g>
<g id="k10-17" class="W"><ellipse cx="916" cy="530" rx="17" ry="21.3"/><use href="#L" x="916" y="530"/></g>
<g id="k10-18" class="W"><ellipse cx="968" cy="530" rx="17" ry="21.3"/><use href="#L" x="968" y="530"/></g>
<g id="k11-1" class="W"><ellipse cx="84" cy="582" rx="17" ry="21.3"/><use href="#R" x="84" y="582"/></g>
<g id="k11-2" class="B"><ellipse cx="136" cy="582" rx="17" ry="21.3"/><use href="#RW" x="136" y="582"/></g>
<g id="k11-3" class="C"><ellipse cx="188" cy="582" rx="17" ry="21.3"/><use href="#RW" x="188" y="582"/></g>
<g id="k11-4" class="D"><ellipse cx="240" cy="582" rx="17" ry="21.3"/><use href="#RW" x="240" y="582"/></g>
<g id="k11-5" class="D"><ellipse cx="292" cy="582" rx="17" ry="21.3"/><use href="#RW" x="292" y="582"/></g>
<g id="k11-6" class="E"><ellipse cx="344" cy="582" rx="17" ry="21.3"/><use href="#R" x="344" y="582"/></g>
<g id="k11-7" class="E"><ellipse cx="396" cy="582" rx="17" ry="21.3"/><use href="#R" x="396" y="582"/></g>
<g id="k11-8" class="F"><ellipse cx="448" cy="582" rx="17" ry="21.3"/><use href="#RW" x="448" y="582"/></g>
<g id="k11-9" class="E"><ellipse cx="500" cy="582" rx="17" ry="21.3"/><use href="#R" x="500" y="582"/></g>
<g id="k11-10" class="E"><ellipse cx="552" cy="582" rx="17" ry="21.3"/><use href="#R" x="552" y="582"/></g>
<g id="k11-11" class="E"><ellipse cx="604" cy="582" rx="17" ry="21.3"/><use href="#R" x="604" y="582"/></g>
<g id="k11-12" class="E"><ellipse cx="656" cy="582" rx="17" ry="21.3"/><use href="#R" x="656" y="582"/></g>
<g id="k11-13" class="F"><ellipse cx="708" cy="582" rx="17" ry="21.3"/><use href="#RW" x="708" y="582"/></g>
<g id="k11-14" class="E"><ellipse cx="760" cy="582" rx="17" ry="21.3"/><use href="#R" x="760" y="582"/></g>
<g id="k11-15" class="D"><ellipse cx="812" cy="582" rx="17" ry="21.3"/><use href="#RW" x="812" y="582"/></g>
<g id="k11-16" class="C"><ellipse cx="864" cy="582" rx="17" ry="21.3"/><use href="#RW" x="864" y="582"/></g>
<g id="k11-17" class="B"><ellipse cx="916" cy="582" rx="17" ry="21.3"/><use href="#RW" x="916" y="582"/></g>
<g id="k11-18" class="W"><ellipse cx="968" cy="582" rx="17" ry="21.3"/><use href="#R" x="968" y="582"/></g>
<g id="k12-1" class="W"><ellipse cx="84" cy="634" rx="17" ry="21.3"/><use href="#L" x="84" y="634"/></g>
<g id="k12-2" class="B"><ellipse cx="136" cy="634" rx="17" ry="21.3"/><use href="#LW" x="136" y="634"/></g>
<g id="k12-3" class="C"><ellipse cx="188" cy="634" rx="17" ry="21.3"/><use href="#LW" x="188" y="634"/></g>
<g id="k12-4" class="D"><ellipse cx="240" cy="634" rx="17" ry="21.3"/><use href="#LW" x="240" y="634"/></g>
<g id="k12-5" class="D"><ellipse cx="292" cy="634" rx="17" ry="21.3"/><use href="#LW" x="292" y="634"/></g>
<g id="k12-6" class="E"><ellipse cx="344" cy="634" rx="17" ry="21.3"/><use href="#L" x="344" y="634"/></g>
<g id="k12-7" class="E"><ellipse cx="396" cy="634" rx="17" ry="21.3"/><use href="#L" x="396" y="634"/></g>
<g id="k12-8" class="F"><ellipse cx="448" cy="634" rx="17" ry="21.3"/><use href="#LW" x="448" y="634"/></g>
<g id="k12-9" class="E"><ellipse cx="500" cy="634" rx="17" ry="21.3"/><use href="#L" x="500" y="634"/></g>
<g id="k12-10" class="E"><ellipse cx="552" cy="634" rx="17" ry="21.3"/><use href="#L" x="552" y="634"/></g>
<g id="k12-11" class="E"><ellipse cx="604" cy="634" rx="17" ry="21.3"/><use href="#L" x="604" y="634"/></g>
<g id="k12-12" class="E"><ellipse cx="656" cy="634" rx="17" ry="21.3"/><use href="#L" x="656" y="634"/></g>
<g id="k12-13" class="F"><ellipse cx="708" cy="634" rx="17" ry="21.3"/><use href="#LW" x="708" y="634"/></g>
<g id="k12-14" class="E"><ellipse cx="760" cy="634" rx="17" ry="21.3"/><use href="#L" x="760" y="634"/></g>
<g id="k12-15" class="D"><ellipse cx="812" cy="634" rx="17" ry="21.3"/><use href="#LW" x="812" y="634"/></g>
<g id="k12-16" class="D"><ellipse cx="864" cy="634" rx="17" ry="21.3"/><use href="#LW" x="864" y="634"/></g>
<g id="k12-17" class="B"><ellipse cx="916" cy="634" rx="17" ry="21.3"/><use href="#LW" x="916" y="634"/></g>
<g id="k12-18" class="W"><ellipse cx="968" cy="634" rx="17" ry="21.3"/><use href="#L" x="968" y="634"/></g>
<g id="k13-1" class="W"><ellipse cx="84" cy="686" rx="17" ry="21.3"/><use href="#R" x="84" y="686"/></g>
<g id="k13-2" class="B"><ellipse cx="136" cy="686" rx="17" ry="21.3"/><use href="#RW" x="136" y="686"/></g>
<g id="k13-3" class="C"><ellipse cx="188" cy="686" rx="17" ry="21.3"/><use href="#RW" x="188" y="686"/></g>
<g id="k13-4" class="D"><ellipse cx="240" cy="686" rx="17" ry="21.3"/><use href="#RW" x="240" y="686"/></g>
<g id="k13-5" class="G"><ellipse cx="292" cy="686" rx="17" ry="21.3"/><use href="#RW" x="292" y="686"/></g>
<g id="k13-6" class="G"><ellipse cx="344" cy="686" rx="17" ry="21.3"/><use href="#RW" x="344" y="686"/></g>
<g id="k13-7" class="E"><ellipse cx="396" cy="686" rx="17" ry="21.3"/><use href="#R" x="396" y="686"/></g>
<g id="k13-8" class="E"><ellipse cx="448" cy="686" rx="17" ry="21.3"/><use href="#R" x="448" y="686"/></g>
<g id="k13-9" class="E"><ellipse cx="500" cy="686" rx="17" ry="21.3"/><use href="#R" x="500" y="686"/></g>
<g id="k13-10" class="F"><ellipse cx="552" cy="686" rx="17" ry="21.3"/><use href="#RW" x="552" y="686"/></g>
<g id="k13-11" class="F"><ellipse cx="604" cy="686" rx="17" ry="21.3"/><use href="#RW" x="604" y="686"/></g>
<g id="k13-12" class="E"><ellipse cx="656" cy="686" rx="17" ry="21.3"/><use href="#R" x="656" y="686"/></g>
<g id="k13-13" class="E"><ellipse cx="708" cy="686" rx="17" ry="21.3"/><use href="#R" x="708" y="686"/></g>
<g id="k13-14" class="E"><ellipse cx="760" cy="686" rx="17" ry="21.3"/><use href="#R" x="760" y="686"/></g>
<g id="k13-15" class="G"><ellipse cx="812" cy="686" rx="17" ry="21.3"/><use href="#RW" x="812" y="686"/></g>
<g id="k13-16" class="G"><ellipse cx="864" cy="686" rx="17" ry="21.3"/><use href="#RW" x="864" y="686"/></g>
<g id="k13-17" class="B"><ellipse cx="916" cy="686" rx="17" ry="21.3"/><use href="#RW" x="916" y="686"/></g>
<g id="k13-18" class="W"><ellipse cx="968" cy="686" rx="17" ry="21.3"/><use href="#R" x="968" y="686"/></g>
<g id="k14-1" class="W"><ellipse cx="84" cy="738" rx="17" ry="21.3"/><use href="#L" x="84" y="738"/></g>
<g id="k14-2" class="B"><ellipse cx="136" cy="738" rx="17" ry="21.3"/><use href="#LW" x="136" y="738"/></g>
<g id="k14-3" class="C"><ellipse cx="188" cy="738" rx="17" ry="21.3"/><use href="#LW" x="188" y="738"/></g>
<g id="k14-4" class="C"><ellipse cx="240" cy="738" rx="17" ry="21.3"/><use href="#LW" x="240" y="738"/></g>
<g id="k14-5" class="D"><ellipse cx="292" cy="738" rx="17" ry="21.3"/><use href="#LW" x="292" y="738"/></g>
<g id="k14-6" class="D"><ellipse cx="344" cy="738" rx="17" ry="21.3"/><use href="#LW" x="344" y="738"/></g>
<g id="k14-7" class="D"><ellipse cx="396" cy="738" rx="17" ry="21.3"/><use href="#LW" x="396" y="738"/></g>
<g id="k14-8" class="E"><ellipse cx="448" cy="738" rx="17" ry="21.3"/><use href="#L" x="448" y="738"/></g>
<g id="k14-9" class="E"><ellipse cx="500" cy="738" rx="17" ry="21.3"/><use href="#L" x="500" y="738"/></g>
<g id="k14-10" class="E"><ellipse cx="552" cy="738" rx="17" ry="21.3"/><use href="#L" x="552" y="738"/></g>
<g id="k14-11" class="E"><ellipse cx="604" cy="738" rx="17" ry="21.3"/><use href="#L" x="604" y="738"/></g>
<g id="k14-12" class="E"><ellipse cx="656" cy="738" rx="17" ry="21.3"/><use href="#L" x="656" y="738"/></g>
<g id="k14-13" class="E"><ellipse cx="708" cy="738" rx="17" ry="21.3"/><use href="#L" x="708" y="738"/></g>
<g id="k14-14" class="D"><ellipse cx="760" cy="738" rx="17" ry="21.3"/><use href="#LW" x="760" y="738"/></g>
<g id="k14-15" class="D"><ellipse cx="812" cy="738" rx="17" ry="21.3"/><use href="#LW" x="812" y="738"/></g>
<g id="k14-16" class="C"><ellipse cx="864" cy="738" rx="17" ry="21.3"/><use href="#LW" x="864" y="738"/></g>
<g id="k14-17" class="B"><ellipse cx="916" cy="738" rx="17" ry="21.3"/><use href="#LW" x="916" y="738"/></g>
<g id="k14-18" class="W"><ellipse cx="968" cy="738" rx="17" ry="21.3"/><use href="#L" x="968" y="738"/></g>
<g id="k15-1" class="W"><ellipse cx="84" cy="790" rx="17" ry="21.3"/><use href="#R" x="84" y="790"/></g>
<g id="k15-2" class="B"><ellipse cx="136" cy="790" rx="17" ry="21.3"/><use href="#RW" x="136" y="790"/></g>
<g id="k15-3" class="C"><ellipse cx="188" cy="790" rx="17" ry="21.3"/><use href="#RW" x="188" y="790"/></g>
<g id="k15-4" class="C"><ellipse cx="240" cy="790" rx="17" ry="21.3"/><use href="#RW" x="240" y="790"/></g>
<g id="k15-5" class="C"><ellipse cx="292" cy="790" rx="17" ry="21.3"/><use href="#RW" x="292" y="790"/></g>
<g id="k15-6" class="C"><ellipse cx="344" cy="790" rx="17" ry="21.3"/><use href="#RW" x="344" y="790"/></g>
<g id="k15-7" class="D"><ellipse cx="396" cy="790" rx="17" ry="21.3"/><use href="#RW" x="396" y="790"/></g>
<g id="k15-8" class="D"><ellipse cx="448" cy="790" rx="17" ry="21.3"/><use href="#RW" x="448" y="790"/></g>
<g id="k15-9" class="D"><ellipse cx="500" cy="790" rx="17" ry="21.3"/><use href="#RW" x="500" y="790"/></g>
<g id="k15-10" class="D"><ellipse cx="552" cy="790" rx="17" ry="21.3"/><use href="#RW" x="552" y="790"/></g>
<g id="k15-11" class="D"><ellipse cx="604" cy="790" rx="17" ry="21.3"/><use href="#RW" x="604" y="790"/></g>
<g id="k15-12" class="D"><ellipse cx="656" cy="790" rx="17" ry="21.3"/><use href="#RW" x="656" y="790"/></g>
<g id="k15-13" class="D"><ellipse cx="708" cy="790" rx="17" ry="21.3"/><use href="#RW" x="708" y="790"/></g>
<g id="k15-14" class="D"><ellipse cx="760" cy="790" rx="17" ry="21.3"/><use href="#RW" x="760" y="790"/></g>
<g id="k15-15" class="C"><ellipse cx="812" cy="790" rx="17" ry="21.3"/><use href="#RW" x="812" y="790"/></g>
<g id="k15-16" class="C"><ellipse cx="864" cy="790" rx="17" ry="21.3"/><use href="#RW" x="864" y="790"/></g>
<g id="k15-17" class="B"><ellipse cx="916" cy="790" rx="17" ry="21.3"/><use href="#RW" x="916" y="790"/></g>
<g id="k15-18" class="W"><ellipse cx="968" cy="790" rx="17" ry="21.3"/><use href="#R" x="968" y="790"/></g>
<g id="k16-1" class="W"><ellipse cx="84" cy="842" rx="17" ry="21.3"/><use href="#L" x="84" y="842"/></g>
<g id="k16-2" class="W"><ellipse cx="136" cy="842" rx="17" ry="21.3"/><use href="#L" x="136" y="842"/></g>
<g id="k16-3" class="B"><ellipse cx="188" cy="842" rx="17" ry="21.3"/><use href="#LW" x="188" y="842"/></g>
<g id="k16-4" class="C"><ellipse cx="240" cy="842" rx="17" ry="21.3"/><use href="#LW" x="240" y="842"/></g>
<g id="k16-5" class="C"><ellipse cx="292" cy="842" rx="17" ry="21.3"/><use href="#LW" x="292" y="842"/></g>
<g id="k16-6" class="C"><ellipse cx="344" cy="842" rx="17" ry="21.3"/><use href="#LW" x="344" y="842"/></g>
<g id="k16-7" class="C"><ellipse cx="396" cy="842" rx="17" ry="21.3"/><use href="#LW" x="396" y="842"/></g>
<g id="k16-8" class="C"><ellipse cx="448" cy="842" rx="17" ry="21.3"/><use href="#LW" x="448" y="842"/></g>
<g id="k16-9" class="C"><ellipse cx="500" cy="842" rx="17" ry="21.3"/><use href="#LW" x="500" y="842"/></g>
<g id="k16-10" class="C"><ellipse cx="552" cy="842" rx="17" ry="21.3"/><use href="#LW" x="552" y="842"/></g>
<g id="k16-11" class="C"><ellipse cx="604" cy="842" rx="17" ry="21.3"/><use href="#LW" x="604" y="842"/></g>
<g id="k16-12" class="C"><ellipse cx="656" cy="842" rx="17" ry="21.3"/><use href="#LW" x="656" y="842"/></g>
<g id="k16-13" class="C"><ellipse cx="708" cy="842" rx="17" ry="21.3"/><use href="#LW" x="708" y="842"/></g>
<g id="k16-14" class="C"><ellipse cx="760" cy="842" rx="17" ry="21.3"/><use href="#LW" x="760" y="842"/></g>
<g id="k16-15" class="C"><ellipse cx="812" cy="842" rx="17" ry="21.3"/><use href="#LW" x="812" y="842"/></g>
<g id="k16-16" class="B"><ellipse cx="864" cy="842" rx="17" ry="21.3"/><use href="#LW" x="864" y="842"/></g>
<g id="k16-17" class="W"><ellipse cx="916" cy="842" rx="17" ry="21.3"/><use href="#L" x="916" y="842"/></g>
<g id="k16-18" class="W"><ellipse cx="968" cy="842" rx="17" ry="21.3"/><use href="#L" x="968" y="842"/></g>
<g id="k17-1" class="W"><ellipse cx="84" cy="894" rx="17" ry="21.3"/><use href="#R" x="84" y="894"/></g>
<g id="k17-2" class="W"><ellipse cx="136" cy="894" rx="17" ry="21.3"/><use href="#R" x="136" y="894"/></g>
<g id="k17-3" class="W"><ellipse cx="188" cy="894" rx="17" ry="21.3"/><use href="#R" x="188" y="894"/></g>
<g id="k17-4" class="B"><ellipse cx="240" cy="894" rx="17" ry="21.3"/><use href="#RW" x="240" y="894"/></g>
<g id="k17-5" class="B"><ellipse cx="292" cy="894" rx="17" ry="21.3"/><use href="#RW" x="292" y="894"/></g>
<g id="k17-6" class="B"><ellipse cx="344" cy="894" rx="17" ry="21.3"/><use href="#RW" x="344" y="894"/></g>
<g id="k17-7" class="B"><ellipse cx="396" cy="894" rx="17" ry="21.3"/><use href="#RW" x="396" y="894"/></g>
<g id="k17-8" class="B"><ellipse cx="448" cy="894" rx="17" ry="21.3"/><use href="#RW" x="448" y="894"/></g>
<g id="k17-9" class="B"><ellipse cx="500" cy="894" rx="17" ry="21.3"/><use href="#RW" x="500" y="894"/></g>
<g id="k17-10" class="B"><ellipse cx="552" cy="894" rx="17" ry="21.3"/><use href="#RW" x="552" y="894"/></g>
<g id="k17-11" class="B"><ellipse cx="604" cy="894" rx="17" ry="21.3"/><use href="#RW" x="604" y="894"/></g>
<g id="k17-12" class="B"><ellipse cx="656" cy="894" rx="17" ry="21.3"/><use href="#RW" x="656" y="894"/></g>
<g id="k17-13" class="B"><ellipse cx="708" cy="894" rx="17" ry="21.3"/><use href="#RW" x="708" y="894"/></g>
<g id="k17-14" class="B"><ellipse cx="760" cy="894" rx="17" ry="21.3"/><use href="#RW" x="760" y="894"/></g>
<g id="k17-15" class="B"><ellipse cx="812" cy="894" rx="17" ry="21.3"/><use href="#RW" x="812" y="894"/></g>
<g id="k17-16" class="W"><ellipse cx="864" cy="894" rx="17" ry="21.3"/><use href="#R" x="864" y="894"/></g>
<g id="k17-17" class="W"><ellipse cx="916" cy="894" rx="17" ry="21.3"/><use href="#R" x="916" y="894"/></g>
<g id="k17-18" class="W"><ellipse cx="968" cy="894" rx="17" ry="21.3"/><use href="#R" x="968" y="894"/></g>
<g id="k18-1" class="W"><ellipse cx="84" cy="946" rx="17" ry="21.3"/><use href="#L" x="84" y="946"/></g>
<g id="k18-2" class="W"><ellipse cx="136" cy="946" rx="17" ry="21.3"/><use href="#L" x="136" y="946"/></g>
<g id="k18-3" class="W"><ellipse cx="188" cy="946" rx="17" ry="21.3"/><use href="#L" x="188" y="946"/></g>
<g id="k18-4" class="W"><ellipse cx="240" cy="946" rx="17" ry="21.3"/><use href="#L" x="240" y="946"/></g>
<g id="k18-5" class="W"><ellipse cx="292" cy="946" rx="17" ry="21.3"/><use href="#L" x="292" y="946"/></g>
<g id="k18-6" class="W"><ellipse cx="344" cy="946" rx="17" ry="21.3"/><use href="#L" x="344" y="946"/></g>
<g id="k18-7" class="W"><ellipse cx="396" cy="946" rx="17" ry="21.3"/><use href="#L" x="396" y="946"/></g>
<g id="k18-8" class="W"><ellipse cx="448" cy="946" rx="17" ry="21.3"/><use href="#L" x="448" y="946"/></g>
<g id="k18-9" class="W"><ellipse cx="500" cy="946" rx="17" ry="21.3"/><use href="#L" x="500" y="946"/></g>
<g id="k18-10" class="W"><ellipse cx="552" cy="946" rx="17" ry="21.3"/><use href="#L" x="552" y="946"/></g>
<g id="k18-11" class="W"><ellipse cx="604" cy="946" rx="17" ry="21.3"/><use href="#L" x="604" y="946"/></g>
<g id="k18-12" class="W"><ellipse cx="656" cy="946" rx="17" ry="21.3"/><use href="#L" x="656" y="946"/></g>
<g id="k18-13" class="W"><ellipse cx="708" cy="946" rx="17" ry="21.3"/><use href="#L" x="708" y="946"/></g>
<g id="k18-14" class="W"><ellipse cx="760" cy="946" rx="17" ry="21.3"/><use href="#L" x="760" y="946"/></g>
<g id="k18-15" class="W"><ellipse cx="812" cy="946" rx="17" ry="21.3"/><use href="#L" x="812" y="946"/></g>
<g id="k18-16" class="W"><ellipse cx="864" cy="946" rx="17" ry="21.3"/><use href="#L" x="864" y="946"/></g>
<g id="k18-17" class="W"><ellipse cx="916" cy="946" rx="17" ry="21.3"/><use href="#L" x="916" y="946"/></g>
<g id="k18-18" class="W"><ellipse cx="968" cy="946" rx="17" ry="21.3"/><use href="#L" x="968" y="946"/></g>
<g id="k19-1" class="W"><ellipse cx="84" cy="998" rx="17" ry="21.3"/><use href="#R" x="84" y="998"/></g>
<g id="k19-2" class="W"><ellipse cx="136" cy="998" rx="17" ry="21.3"/><use href="#R" x="136" y="998"/></g>
<g id="k19-3" class="W"><ellipse cx="188" cy="998" rx="17" ry="21.3"/><use href="#R" x="188" y="998"/></g>
<g id="k19-4" class="W"><ellipse cx="240" cy="998" rx="17" ry="21.3"/><use href="#R" x="240" y="998"/></g>
<g id="k19-5" class="W"><ellipse cx="292" cy="998" rx="17" ry="21.3"/><use href="#R" x="292" y="998"/></g>
<g id="k19-6" class="W"><ellipse cx="344" cy="998" rx="17" ry="21.3"/><use href="#R" x="344" y="998"/></g>
<g id="k19-7" class="W"><ellipse cx="396" cy="998" rx="17" ry="21.3"/><use href="#R" x="396" y="998"/></g>
<g id="k19-8" class="W"><ellipse cx="448" cy="998" rx="17" ry="21.3"/><use href="#R" x="448" y="998"/></g>
<g id="k19-9" class="W"><ellipse cx="500" cy="998" rx="17" ry="21.3"/><use href="#R" x="500" y="998"/></g>
<g id="k19-10" class="W"><ellipse cx="552" cy="998" rx="17" ry="21.3"/><use href="#R" x="552" y="998"/></g>
<g id="k19-11" class="W"><ellipse cx="604" cy="998" rx="17" ry="21.3"/><use href="#R" x="604" y="998"/></g>
<g id="k19-12" class="W"><ellipse cx="656" cy="998" rx="17" ry="21.3"/><use href="#R" x="656" y="998"/></g>
<g id="k19-13" class="W"><ellipse cx="708" cy="998" rx="17" ry="21.3"/><use href="#R" x="708" y="998"/></g>
<g id="k19-14" class="W"><ellipse cx="760" cy="998" rx="17" ry="21.3"/><use href="#R" x="760" y="998"/></g>
<g id="k19-15" class="W"><ellipse cx="812" cy="998" rx="17" ry="21.3"/><use href="#R" x="812" y="998"/></g>
<g id="k19-16" class="W"><ellipse cx="864" cy="998" rx="17" ry="21.3"/><use href="#R" x="864" y="998"/></g>
<g id="k19-17" class="W"><ellipse cx="916" cy="998" rx="17" ry="21.3"/><use href="#R" x="916" y="998"/></g>
<g id="k19-18" class="W"><ellipse cx="968" cy="998" rx="17" ry="21.3"/><use href="#R" x="968" y="998"/></g>
</g>
<text id="watermark" class="wm" x="526" y="561">BRACELETBOOK.COM</text>
</svg>
